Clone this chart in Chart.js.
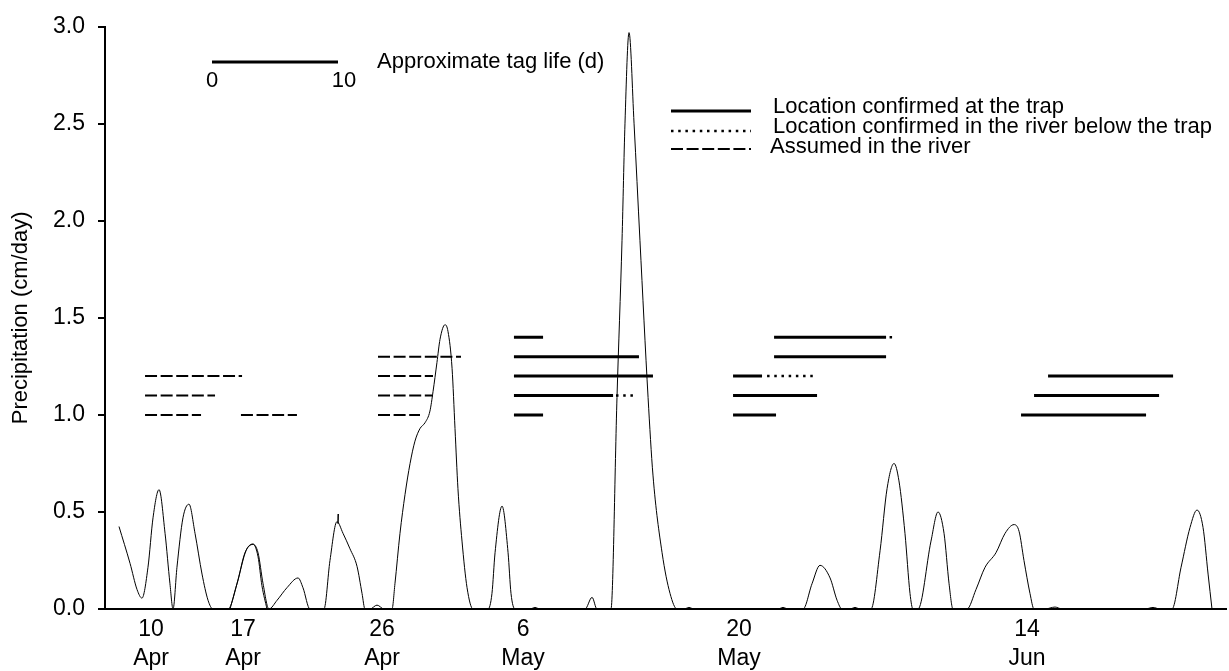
<!DOCTYPE html>
<html>
<head>
<meta charset="utf-8">
<title>Precipitation and tag life</title>
<script src="https://cdn.jsdelivr.net/npm/chart.js@4.4.1/dist/chart.umd.min.js"></script>
<style>
  html, body { margin: 0; padding: 0; background: #fff; }
</style>
</head>
<body>
<canvas id="rainChart" width="1229" height="671"></canvas>
<script>
const FONT = '"Liberation Sans", Arial, sans-serif';

// x axis is a running day index; ticks sit at the labelled dates
const tickPos = [3.29, 9.86, 19.79, 29.86, 45.29, 65.86];
const tickDays = ['10', '17', '26', '6', '20', '14'];
const tickMonths = ['Apr', 'Apr', 'Apr', 'May', 'May', 'Jun'];

// daily precipitation trace (cm/day)
const rainDay = [
  1.00, 1.79, 2.29, 2.64, 3.07, 3.43, 3.86, 4.29, 4.64, 4.86, 5.14, 5.57, 6.00, 6.43, 6.93, 7.36, 7.71,
  8.21, 8.79, 9.43, 10.00, 10.57, 10.93, 11.29, 11.71, 12.29, 13.00, 13.79, 14.14, 14.64, 15.14,
  15.64, 16.07, 16.57, 17.00, 17.50, 18.00, 18.36, 18.57, 18.93, 19.43, 19.93, 20.50,
  20.71, 21.07, 21.43, 21.79, 22.14, 22.50, 22.86, 23.21, 23.43, 23.71, 23.93, 24.29, 24.50, 24.79, 25.00, 25.21, 25.50, 25.86, 26.29, 26.79,
  27.36, 27.64, 27.86, 28.36, 28.79, 29.00, 29.29, 30.36, 30.71, 31.07, 34.29, 34.79, 35.14,
  36.14, 36.57, 36.93, 37.14, 37.43, 37.79, 38.21, 38.79, 39.14, 39.79, 40.36, 40.86,
  41.36, 41.71, 42.07, 48.07, 48.43, 48.79, 49.86, 50.50, 51.07, 51.79, 52.29, 52.64, 53.21, 53.57, 53.93,
  54.71, 55.36, 55.86, 56.36, 56.71, 57.14, 57.50, 57.71, 58.07, 59.00, 59.50, 59.93, 60.29, 60.57,
  61.07, 61.57, 62.21, 62.86, 63.64, 64.29, 64.93, 65.29, 65.64, 66.07, 66.36,
  67.14, 67.86, 68.36, 74.29, 74.86, 75.36, 76.21, 76.86, 77.50, 78.00, 78.43, 78.79, 79.07
];
const rainCm = [
  0.425, 0.235, 0.10, 0.056, 0.215, 0.47, 0.615, 0.39, 0.13, 0, 0.215, 0.47, 0.54, 0.39, 0.18, 0.045, 0,
  0, 0, 0.13, 0.29, 0.333, 0.29, 0.13, 0, 0.045, 0.11, 0.16, 0.11, 0, 0,
  0, 0.25, 0.45, 0.39, 0.31, 0.22, 0.08, 0, 0, 0.02, 0, 0,
  0.13, 0.39, 0.59, 0.75, 0.865, 0.93, 0.96, 1.02, 1.12, 1.27, 1.39, 1.465, 1.43, 1.24, 0.93, 0.62, 0.35, 0.11, 0, 0,
  0, 0.08, 0.29, 0.53, 0.29, 0.08, 0, 0, 0.008, 0, 0, 0.06, 0,
  0, 1.09, 1.9, 2.5, 2.97, 2.5, 1.9, 1.09, 0.69, 0.29, 0.08, 0,
  0, 0.008, 0, 0, 0.008, 0, 0, 0.13, 0.225, 0.16, 0.045, 0, 0, 0.008, 0,
  0, 0.30, 0.62, 0.75, 0.66, 0.39, 0.08, 0, 0, 0.35, 0.50, 0.39, 0.13, 0,
  0, 0, 0.10, 0.215, 0.29, 0.39, 0.435, 0.40, 0.25, 0.08, 0,
  0, 0.01, 0, 0, 0.008, 0, 0, 0.215, 0.42, 0.51, 0.42, 0.18, 0
];

// second record overlapping the 17 Apr shower, and the short spike near 24 Apr
const rainDay2 = [8.93, 9.50, 10.07, 10.57, 10.93, 11.21, 11.57];
const rainCm2 = [0, 0.15, 0.30, 0.335, 0.27, 0.12, 0];
const spikeDay = [16.64, 16.66];
const spikeCm = [0.44, 0.49];

// tag life runs: start day, end day, row (drawn on the precipitation scale)
const trapStart = [29.21, 29.21, 29.21, 29.21, 29.21, 44.86, 44.86, 44.86, 47.79, 47.79, 67.36, 66.36, 65.43];
const trapEnd   = [31.29, 38.14, 39.14, 36.29, 31.29, 46.93, 50.86, 47.93, 55.79, 55.79, 76.29, 75.29, 74.36];
const trapRow   = [1.4, 1.3, 1.2, 1.1, 1.0, 1.2, 1.1, 1.0, 1.4, 1.3, 1.2, 1.1, 1.0];

const riverStart = [36.50, 47.29, 56.04];
const riverEnd   = [37.86, 50.60, 56.25];
const riverRow   = [1.1, 1.2, 1.4];

const assumedStart = [2.86, 2.86, 2.86, 9.71, 19.50, 19.50, 19.50, 19.50];
const assumedEnd   = [9.79, 7.86, 6.86, 13.71, 25.43, 23.43, 23.43, 22.50];
const assumedRow   = [1.2, 1.1, 1.0, 1.0, 1.3, 1.2, 1.1, 1.0];

const legendLabels = [
  'Location confirmed at the trap',
  'Location confirmed in the river below the trap',
  'Assumed in the river'
];

const STYLES = {
  trap: { width: 3, dash: [] },
  river: { width: 2.5, dash: [2.5, 4.7] },
  assumed: { width: 2, dash: [12, 3.6] }
};

function toPoints(xs, ys) {
  return xs.map((x, i) => ({ x: x, y: ys[i] }));
}

function runSets(starts, ends, rows, style) {
  return starts.map((s, i) => ({
    data: [{ x: s, y: rows[i] }, { x: ends[i], y: rows[i] }],
    borderColor: '#000',
    borderWidth: style.width,
    borderDash: style.dash,
    borderCapStyle: 'butt',
    pointRadius: 0,
    tension: 0
  }));
}

// legend and the tag life scale bar, drawn on top of the plot
const notesPlugin = {
  id: 'notes',
  afterDraw(chart) {
    const ctx = chart.ctx;
    ctx.save();
    ctx.fillStyle = '#000';
    ctx.strokeStyle = '#000';
    ctx.font = '22px ' + FONT;
    ctx.textBaseline = 'middle';

    ctx.lineWidth = 3;
    ctx.beginPath();
    ctx.moveTo(212, 62);
    ctx.lineTo(338, 62);
    ctx.stroke();
    ctx.textAlign = 'center';
    ctx.fillText('0', 212, 81);
    ctx.fillText('10', 344, 81);
    ctx.textAlign = 'left';
    ctx.fillText('Approximate tag life (d)', 377, 62);

    const keys = ['trap', 'river', 'assumed'];
    const lineY = [111, 131, 149];
    const textY = [107, 127, 147];
    const textX = [773, 773, 770];
    keys.forEach((k, i) => {
      ctx.lineWidth = STYLES[k].width;
      ctx.setLineDash(STYLES[k].dash);
      ctx.beginPath();
      ctx.moveTo(671, lineY[i]);
      ctx.lineTo(751, lineY[i]);
      ctx.stroke();
      ctx.setLineDash([]);
      ctx.fillText(legendLabels[i], textX[i], textY[i]);
    });
    ctx.restore();
  }
};

const datasets = [
  {
    data: toPoints(rainDay, rainCm),
    borderColor: '#000',
    borderWidth: 1,
    pointRadius: 0,
    cubicInterpolationMode: 'monotone',
    tension: 0.4
  },
  {
    data: toPoints(rainDay2, rainCm2),
    borderColor: '#000',
    borderWidth: 1,
    pointRadius: 0,
    cubicInterpolationMode: 'monotone',
    tension: 0.4
  },
  {
    data: toPoints(spikeDay, spikeCm),
    borderColor: '#000',
    borderWidth: 1.5,
    pointRadius: 0
  }
].concat(
  runSets(assumedStart, assumedEnd, assumedRow, STYLES.assumed),
  runSets(trapStart, trapEnd, trapRow, STYLES.trap),
  runSets(riverStart, riverEnd, riverRow, STYLES.river)
);

new Chart(document.getElementById('rainChart'), {
  type: 'line',
  data: { datasets: datasets },
  options: {
    responsive: false,
    animation: false,
    layout: { padding: { top: 24, right: 3, bottom: 0, left: 0 } },
    plugins: {
      legend: { display: false },
      tooltip: { enabled: false }
    },
    scales: {
      x: {
        type: 'linear',
        min: 0,
        max: 80.07,
        grid: { display: false, drawTicks: false },
        border: { display: true, color: '#000', width: 2 },
        ticks: {
          autoSkip: false,
          maxRotation: 0,
          padding: 6,
          color: '#000',
          font: { family: FONT, size: 23, lineHeight: 1.26 },
          callback: (value, index) => [tickDays[index], tickMonths[index]]
        },
        afterBuildTicks(scale) {
          scale.ticks = tickPos.map(v => ({ value: v }));
        },
        afterFit(scale) {
          scale.height = 62;
        }
      },
      y: {
        min: 0,
        max: 3,
        ticks: {
          stepSize: 0.5,
          padding: 13,
          color: '#000',
          font: { family: FONT, size: 23 },
          callback: v => v.toFixed(1)
        },
        grid: {
          display: true,
          drawOnChartArea: false,
          drawTicks: true,
          tickLength: 7,
          color: '#000',
          lineWidth: 2
        },
        border: { display: true, color: '#000', width: 2 },
        title: {
          display: true,
          text: 'Precipitation (cm/day)',
          color: '#000',
          font: { family: FONT, size: 22 },
          padding: { top: 8, bottom: 0 }
        },
        afterFit(scale) {
          scale.width = 105;
        }
      }
    }
  },
  plugins: [notesPlugin]
});
</script>
</body>
</html>
